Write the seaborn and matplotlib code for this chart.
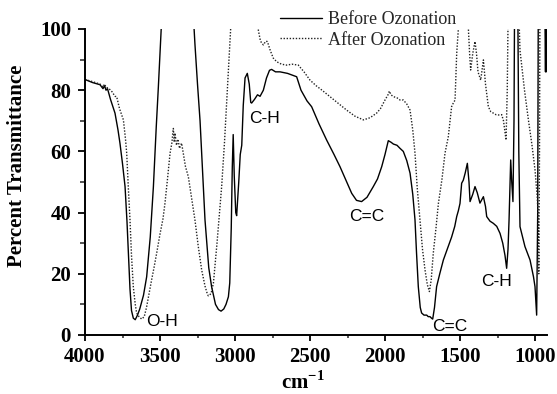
import numpy as np
import pandas as pd
import matplotlib
matplotlib.use("Agg")
import matplotlib.pyplot as plt
from matplotlib.ticker import MultipleLocator
import seaborn as sns

# FTIR spectra (wavenumber in cm-1, % transmittance)
# values above 100 are off the top of the plot and get clipped
before_wn = [4000, 3950, 3900, 3880, 3870, 3860, 3850, 3830, 3800, 3780, 3767, 3750,
             3733, 3720, 3711, 3700, 3690, 3678, 3665, 3650, 3635, 3610, 3589, 3565,
             3544, 3525, 3511, 3500, 3490, 3470, 3300, 3275, 3267, 3250, 3233, 3215,
             3200, 3175, 3156, 3130, 3110, 3093, 3075, 3060, 3044, 3035, 3025, 3018,
             3012, 3005, 2995, 2989, 2975, 2965, 2955, 2945, 2933, 2918, 2905, 2895,
             2889, 2870, 2850, 2833, 2811, 2790, 2770, 2756, 2730, 2700, 2650, 2589,
             2560, 2520, 2489, 2440, 2389, 2340, 2300, 2260, 2222, 2190, 2156, 2120,
             2078, 2050, 2022, 2000, 1978, 1960, 1944, 1920, 1900, 1878, 1855, 1833,
             1815, 1800, 1790, 1778, 1765, 1756, 1740, 1722, 1712, 1700, 1690, 1682,
             1670, 1656, 1635, 1611, 1585, 1556, 1535, 1522, 1511, 1500, 1489, 1478,
             1465, 1451, 1440, 1433, 1415, 1400, 1385, 1367, 1344, 1330, 1322, 1300,
             1278, 1255, 1233, 1215, 1200, 1189, 1180, 1173, 1162, 1155, 1147, 1140,
             1136, 1115, 1108, 1100, 1067, 1033, 1010, 1000, 989, 982, 978, 935,
             930, 927, 925, 923, 921]
before_t = [83.5, 82.5, 81.8, 80.5, 81.5, 80.0, 80.5, 77.0, 72.5, 67.0, 62.7, 56.0,
            48.5, 37.0, 26.8, 15.0, 8.0, 5.5, 5.0, 6.5, 8.5, 13.0, 19.0, 32.0,
            48.5, 68.0, 81.0, 92.0, 102.0, 130.0, 130.0, 102.0, 95.0, 82.0, 70.0, 52.0,
            37.6, 22.0, 15.8, 10.0, 8.3, 7.8, 8.5, 10.0, 12.5, 17.0, 35.0, 55.0,
            65.5, 52.0, 40.0, 39.0, 50.0, 59.0, 62.0, 75.0, 84.0, 85.5, 82.0, 76.0,
            75.8, 77.0, 78.5, 78.0, 80.0, 84.0, 86.5, 86.8, 86.0, 86.0, 85.5, 84.4,
            80.0, 76.5, 74.6, 69.0, 63.7, 59.0, 55.0, 50.5, 46.3, 44.0, 43.6, 45.0,
            48.5, 51.0, 55.0, 59.0, 63.5, 63.0, 62.4, 62.0, 61.0, 60.0, 57.0, 52.9,
            46.0, 37.6, 27.0, 15.8, 9.0, 7.2, 6.5, 6.5, 6.0, 6.0, 5.5, 5.2,
            9.0, 15.8, 20.0, 24.5, 28.0, 32.0, 35.5, 38.7, 40.6, 43.0, 49.6, 50.6,
            53.0, 56.1, 50.0, 43.6, 46.0, 48.5, 46.5, 43.1, 45.2, 42.0, 38.7, 37.2,
            36.5, 35.5, 33.2, 30.0, 26.0, 21.8, 28.0, 37.6, 57.2, 50.0, 43.6, 70.0,
            110.0, 110.0, 60.0, 35.4, 28.9, 24.5, 19.0, 15.8, 6.5, 40.0, 110.0, 110.0,
            86.0, 110.0, 86.0, 110.0, 95.0]

after_wn = [4000, 3950, 3900, 3880, 3870, 3860, 3840, 3820, 3800, 3789, 3770, 3744,
            3730, 3722, 3711, 3700, 3690, 3678, 3665, 3656, 3640, 3622, 3605, 3590,
            3575, 3556, 3540, 3522, 3500, 3480, 3467, 3450, 3433, 3420, 3415, 3411,
            3405, 3400, 3390, 3380, 3370, 3356, 3340, 3330, 3311, 3290, 3267, 3245,
            3222, 3200, 3185, 3178, 3160, 3144, 3120, 3100, 3089, 3070, 3056, 3040,
            3029, 3020, 2860, 2844, 2830, 2811, 2795, 2784, 2765, 2745, 2722, 2690,
            2656, 2620, 2578, 2540, 2500, 2460, 2420, 2367, 2320, 2256, 2200, 2144,
            2100, 2056, 2030, 2000, 1980, 1971, 1960, 1944, 1920, 1900, 1878, 1855,
            1833, 1815, 1800, 1785, 1767, 1750, 1733, 1718, 1704, 1692, 1678, 1660,
            1644, 1620, 1600, 1578, 1556, 1551, 1533, 1522, 1515, 1511, 1500, 1450,
            1444, 1436, 1429, 1415, 1400, 1390, 1380, 1362, 1344, 1330, 1311, 1295,
            1278, 1260, 1244, 1222, 1210, 1193, 1185, 1178, 1111, 1100, 1070, 1044,
            1020, 1000, 985, 978, 975, 970, 967, 920]
after_t = [83.5, 82.8, 82.0, 81.0, 82.0, 81.0, 80.5, 79.5, 78.0, 77.9, 74.0, 70.3,
           64.0, 59.4, 48.0, 37.6, 26.0, 15.8, 10.0, 7.2, 6.0, 5.2, 6.0, 9.0,
           13.0, 18.0, 22.0, 26.8, 33.0, 38.0, 43.0, 51.0, 59.4, 63.0, 66.0, 67.5,
           63.0, 66.0, 62.0, 64.0, 61.0, 62.7, 58.0, 55.0, 51.7, 45.0, 37.6, 29.0,
           21.2, 16.0, 13.5, 12.8, 13.5, 16.9, 30.0, 42.0, 48.5, 63.0, 75.8, 90.0,
           100.0, 115.0, 115.0, 99.5, 96.0, 94.8, 96.0, 95.9, 93.0, 90.5, 89.3, 88.5,
           88.2, 88.5, 88.2, 86.0, 83.3, 81.5, 80.0, 77.9, 76.0, 73.5, 71.5, 70.3,
           71.0, 72.5, 74.0, 76.8, 78.5, 79.7, 78.5, 77.9, 77.5, 76.8, 76.8, 75.5,
           73.5, 67.0, 59.4, 48.0, 37.6, 28.0, 21.2, 16.5, 14.2, 18.0, 26.8, 35.0,
           43.0, 51.0, 59.4, 64.8, 74.6, 75.2, 76.8, 92.0, 97.0, 100.0, 110.0, 110.0,
           100.0, 92.0, 86.6, 92.0, 95.9, 92.0, 86.0, 83.3, 89.9, 82.0, 74.6, 73.0,
           72.5, 72.0, 71.9, 72.0, 70.0, 63.7, 80.0, 110.0, 110.0, 93.0, 80.0, 70.3,
           62.0, 54.0, 45.0, 37.6, 20.0, 60.0, 110.0, 110.0]

# band labels: text, wavenumber, transmittance
band_text = ["O-H", "C-H", "C=C", "C=C", "C-H"]
band_wn = [3489, 2800, 2122, 1567, 1256]
band_t = [4.3, 70.8, 38.7, 2.7, 17.4]

df = pd.concat([
    pd.DataFrame({"wn": before_wn, "T": before_t, "sample": "Before Ozonation"}),
    pd.DataFrame({"wn": after_wn, "T": after_t, "sample": "After Ozonation"}),
], ignore_index=True)

sns.set_theme(style="ticks")
plt.rcParams["font.family"] = ["Liberation Serif", "DejaVu Serif"]
plt.rcParams["mathtext.fontset"] = "custom"
plt.rcParams["mathtext.rm"] = "Liberation Serif:bold"
plt.rcParams["mathtext.bf"] = "Liberation Serif:bold"

fig = plt.figure(figsize=(5.57, 3.94), dpi=100)
ax = fig.add_axes([85 / 557, 59 / 394, 462 / 557, 306 / 394])

sns.lineplot(data=df[df["sample"] == "Before Ozonation"], x="wn", y="T",
             estimator=None, sort=False, color="black", lw=1.0,
             label="Before Ozonation", ax=ax)
sns.lineplot(data=df[df["sample"] == "After Ozonation"], x="wn", y="T",
             estimator=None, sort=False, color="#222222", lw=1.0,
             linestyle=(0, (1, 1.2)), label="After Ozonation", ax=ax)

ax.set_xlim(4000, 920)
ax.set_ylim(0, 100)
ax.xaxis.set_major_locator(MultipleLocator(500))
ax.xaxis.set_minor_locator(MultipleLocator(250))
ax.yaxis.set_major_locator(MultipleLocator(20))
ax.yaxis.set_minor_locator(MultipleLocator(10))
sns.despine(ax=ax)
for s in ["left", "bottom"]:
    ax.spines[s].set_linewidth(1.4)
    ax.spines[s].set_color("black")
ax.tick_params(axis="x", which="major", length=4, width=1.3, pad=5, labelsize=15, colors="black")
ax.tick_params(axis="x", which="minor", length=2.5, width=1.1)
ax.tick_params(axis="y", which="major", length=5, width=1.3, pad=5, labelsize=15, colors="black")
ax.tick_params(axis="y", which="minor", length=3.5, width=1.1)
for lab in ax.get_xticklabels() + ax.get_yticklabels():
    lab.set_fontweight("bold")

ax.set_xlabel(r"cm$^{-1}$", fontsize=15, fontweight="bold", color="black")
ax.set_ylabel("Percent Transmittance", fontsize=15, fontweight="bold", color="black")
ax.xaxis.set_label_coords(0.472, -0.118)
ax.yaxis.set_label_coords(-0.125, 0.552)

for t, xw, yt in zip(band_text, band_wn, band_t):
    ax.text(xw, yt, t, fontsize=12.5, family=["Liberation Sans", "DejaVu Sans"],
            ha="center", va="center", color="black")

ax.legend(loc="upper left", bbox_to_anchor=(280 / 557, 1 - 11 / 394),
          bbox_transform=fig.transFigure, frameon=False, borderpad=0,
          borderaxespad=0, handlelength=2.3, handletextpad=0.35,
          labelspacing=0.2, prop={"family": "Liberation Serif", "size": 13})

fig.savefig("out.png", dpi=100)
